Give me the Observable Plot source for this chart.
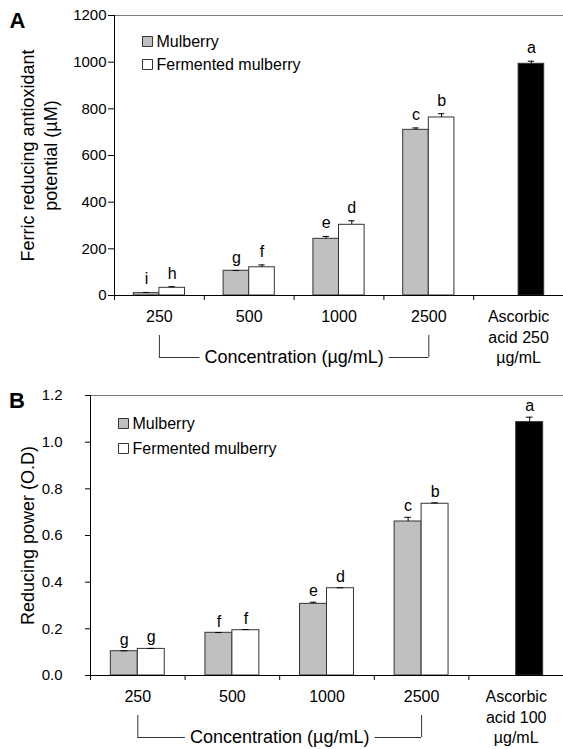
<!DOCTYPE html>
<html><head><meta charset="utf-8">
<script src="https://cdn.jsdelivr.net/npm/d3@7"></script>
<script src="https://cdn.jsdelivr.net/npm/@observablehq/plot@0.6"></script>
<style>body{margin:0;background:#fff} #chart{width:563px} #chart svg{display:block}</style>
</head><body><div id="chart"></div>
<script>
// ---------- data ----------
const concentrations = ["250", "500", "1000", "2500"];
const seriesNames = ["Mulberry", "Fermented mulberry", "Ascorbic acid"];
const seriesColors = ["#c0c0c0", "#ffffff", "#000000"];

// Panel A: FRAP (µM)
const frapMulberry = [10, 106, 243, 710];
const frapMulberryErr = [3, 1, 10, 8];
const frapMulberryLetters = ["i", "g", "e", "c"];
const frapFermented = [33, 121, 303, 763];
const frapFermentedErr = [5, 10, 17, 16];
const frapFermentedLetters = ["h", "f", "d", "b"];
const frapAscorbic = [993];
const frapAscorbicErr = [11];
const frapAscorbicLetters = ["a"];
const frapAscorbicLabel = "Ascorbic\nacid 250\nµg/mL";
const frapTicks = [0, 200, 400, 600, 800, 1000, 1200];

// Panel B: reducing power (O.D)
const rpMulberry = [0.104, 0.183, 0.307, 0.660];
const rpMulberryErr = [0.002, 0.001, 0.007, 0.018];
const rpMulberryLetters = ["g", "f", "e", "c"];
const rpFermented = [0.114, 0.194, 0.374, 0.736];
const rpFermentedErr = [0.002, 0.003, 0.002, 0.004];
const rpFermentedLetters = ["g", "f", "d", "b"];
const rpAscorbic = [1.086];
const rpAscorbicErr = [0.021];
const rpAscorbicLetters = ["a"];
const rpAscorbicLabel = "Ascorbic\nacid 100\nµg/mL";
const rpTicks = [0, 0.2, 0.4, 0.6, 0.8, 1.0, 1.2];

// ---------- helpers ----------
function buildRows(m, me, ml, f, fe, fl, a, ae, al) {
  const rows = [];
  concentrations.forEach((c, i) => {
    rows.push({i, slot: 0, series: seriesNames[0], value: m[i], err: me[i], letter: ml[i]});
    rows.push({i, slot: 1, series: seriesNames[1], value: f[i], err: fe[i], letter: fl[i]});
  });
  rows.push({i: concentrations.length, slot: 1, series: seriesNames[2], value: a[0], err: ae[0], letter: al[0]});
  return rows;
}

const W = 0.285;     // bar width as fraction of a group
const CAP = 0.035;   // error cap half-width
const barX1 = d => d.i + 0.5 + (d.slot - 1) * W;
const barX2 = d => barX1(d) + W;
const barXc = d => barX1(d) + W / 2;
const errTop = d => d.value + d.err;
const FONT = "'Liberation Sans', Arial, Helvetica, sans-serif";

function panel(cfg) {
  const nGroups = concentrations.length + 1;
  const labels = [...concentrations, cfg.ascLabel];
  const legend = seriesNames.slice(0, 2).flatMap((name, k) => [
    Plot.dot([name], {frameAnchor: "top-left", dx: 33, dy: cfg.legendDy[k], symbol: "square", r: 5.64,
      fill: d => d, stroke: "#333", strokeWidth: 1}),
    Plot.text([name], {frameAnchor: "top-left", dx: 42, dy: cfg.legendDy[k], text: d => d,
      textAnchor: "start", lineAnchor: "middle", fontSize: 16, fill: "black"})
  ]);
  return Plot.plot({
    width: 563,
    height: cfg.height,
    marginLeft: cfg.marginLeft,
    marginRight: 0,
    marginTop: cfg.marginTop,
    marginBottom: cfg.marginBottom,
    style: {fontFamily: FONT, fontSize: "15px", color: "black", background: "white", overflow: "visible"},
    x: {domain: [0, nGroups], axis: null},
    y: {domain: [cfg.ticks[0], cfg.ticks[cfg.ticks.length - 1]], axis: null},
    color: {domain: seriesNames, range: seriesColors},
    marks: [
      Plot.ruleY([cfg.ticks[cfg.ticks.length - 1]], {stroke: "#7a7a7a"}),
      Plot.rectY(cfg.rows, {x1: barX1, x2: barX2, y1: 0, y2: "value", fill: "series", stroke: "#333", strokeWidth: 1}),
      Plot.ruleX(cfg.rows, {x: barXc, y1: "value", y2: errTop, stroke: "black"}),
      Plot.ruleY(cfg.rows, {y: errTop, x1: d => barXc(d) - CAP, x2: d => barXc(d) + CAP, stroke: "black"}),
      Plot.text(cfg.rows, {x: barXc, y: errTop, text: "letter", lineAnchor: "bottom", dy: cfg.letterDy, fontSize: 16, fill: "black"}),
      Plot.ruleY([0], {stroke: "black"}),
      Plot.ruleX([0], {stroke: "black"}),
      Plot.axisY({ticks: cfg.ticks, tickFormat: cfg.tickFormat, tickSize: cfg.tickSize, tickPadding: cfg.tickPadding,
        label: null, fontSize: 15}),
      Plot.axisX({ticks: d3.range(0, nGroups), tickSize: 5, tickFormat: () => "", label: null}),
      Plot.axisX({ticks: labels.map((_, i) => i + 0.5), tickSize: 0, tickPadding: 12,
        tickFormat: v => labels[Math.floor(v)], label: null, fontSize: 16, lineHeight: 1.28}),
      // bracket for "Concentration"
      Plot.ruleX([0.5, concentrations.length - 0.5], {y1: 0, y2: 0, dy: 40, insetBottom: -22, stroke: "#333"}),
      Plot.ruleY([0], {x1: 0.5, x2: concentrations.length - 0.5, dy: 62, stroke: "#333"}),
      Plot.text(["Concentration (µg/mL)"], {x: concentrations.length / 2, y: 0, dy: 62, text: d => d,
        lineAnchor: "middle", fontSize: 18, fill: "black", stroke: "white", strokeWidth: 12}),
      ...legend,
      Plot.text([cfg.ylabel], {frameAnchor: "left", dx: cfg.ylabelDx, rotate: -90, text: d => d,
        textAnchor: "middle", lineAnchor: "middle", lineHeight: 1.25, fontSize: 18, fill: "black"}),
      Plot.text([cfg.letter], {frameAnchor: "top-left", dx: cfg.letterDx, dy: 5, text: d => d,
        textAnchor: "middle", lineAnchor: "middle", fontSize: 22, fontWeight: "bold", fill: "black"})
    ]
  });
}

const chart = document.getElementById("chart");
chart.append(panel({
  rows: buildRows(frapMulberry, frapMulberryErr, frapMulberryLetters, frapFermented, frapFermentedErr,
    frapFermentedLetters, frapAscorbic, frapAscorbicErr, frapAscorbicLetters),
  ascLabel: frapAscorbicLabel,
  ticks: frapTicks, tickFormat: d3.format("d"), tickSize: 6, tickPadding: 2,
  height: 378, marginLeft: 114, marginTop: 15, marginBottom: 83,
  legendDy: [26, 49], letterDy: -8, letter: "A", letterDx: -97,
  ylabel: "Ferric reducing antioxidant\npotential (µM)", ylabelDx: -76
}));
chart.append(panel({
  rows: buildRows(rpMulberry, rpMulberryErr, rpMulberryLetters, rpFermented, rpFermentedErr,
    rpFermentedLetters, rpAscorbic, rpAscorbicErr, rpAscorbicLetters),
  ascLabel: rpAscorbicLabel,
  ticks: rpTicks, tickFormat: d3.format(".1f"), tickSize: 5, tickPadding: 23,
  height: 371, marginLeft: 90, marginTop: 17, marginBottom: 74,
  legendDy: [28, 53], letterDy: -6, letter: "B", letterDx: -73.5,
  ylabel: "Reducing power (O.D)", ylabelDx: -64
}));
</script></body></html>
